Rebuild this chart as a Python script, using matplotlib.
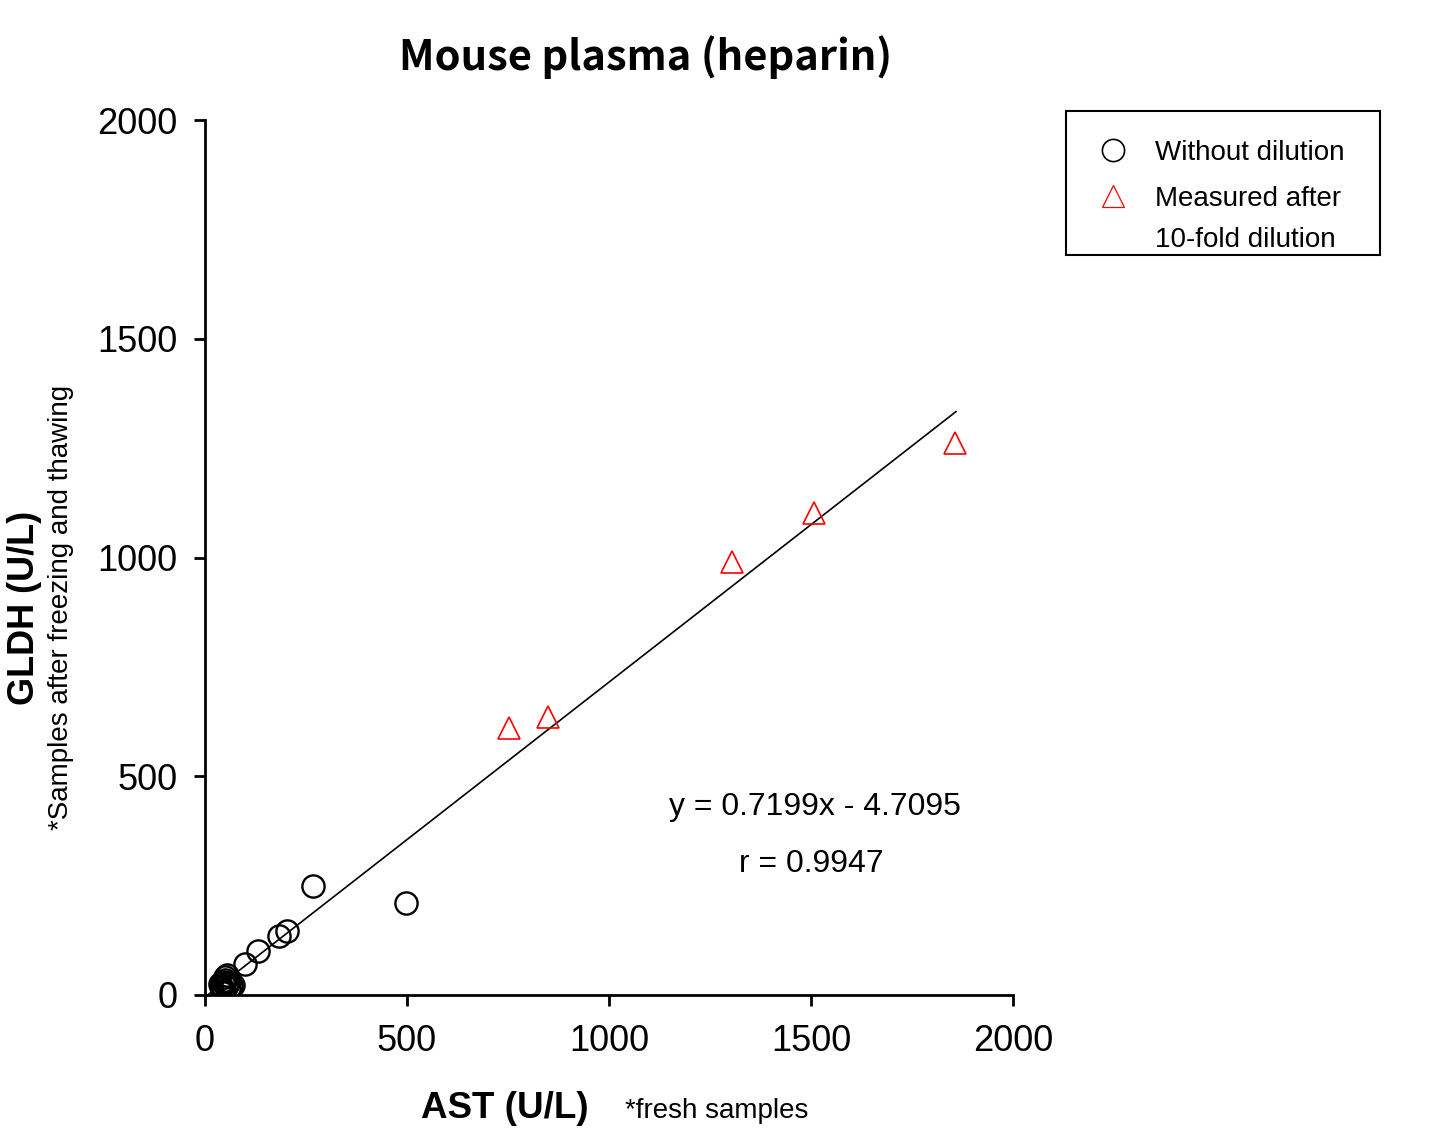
import matplotlib.pyplot as plt
from matplotlib.lines import Line2D
from matplotlib.patches import Rectangle

# Data
ast_plain = [40, 45, 50, 55, 60, 65, 70, 45, 50, 55, 38, 42, 48, 52, 58, 44,
             99, 131, 183, 203, 267, 497]
gldh_plain = [20, 30, 35, 25, 15, 20, 22, 10, 40, 45, 25, 15, 8, 18, 28, 5,
              71, 101, 135, 146, 249, 210]
ast_diluted = [752, 849, 1304, 1507, 1856]
gldh_diluted = [610, 635, 990, 1102, 1262]
slope, intercept = 0.7199, -4.7095
fit_x = [0, 1859]

plt.rcParams['font.family'] = ['Liberation Sans', 'DejaVu Sans']

fig = plt.figure(figsize=(14.5, 11.4), dpi=100)
ax = fig.add_axes([0.1414, 0.1272, 0.5572, 0.7675])

ax.plot(fit_x, [slope * v + intercept for v in fit_x], color='black', lw=1.2)
ax.plot(ast_plain, gldh_plain, 'o', ms=16, mfc='none', mec='black', mew=1.7)
ax.plot(ast_diluted, gldh_diluted, '^', ms=16, mfc='none', mec='red', mew=1.2)

ax.set_xlim(0, 2000)
ax.set_ylim(0, 2000)
ax.set_xticks([0, 500, 1000, 1500, 2000])
ax.set_yticks([0, 500, 1000, 1500, 2000])
ax.spines['top'].set_visible(False)
ax.spines['right'].set_visible(False)
ax.spines['left'].set_linewidth(2)
ax.spines['bottom'].set_linewidth(2)
ax.tick_params(direction='out', length=8, width=2, labelsize=26)
ax.tick_params(axis='y', pad=12)
ax.tick_params(axis='x', pad=13)

ax.text(1510, 430, 'y = 0.7199x - 4.7095', fontsize=23, ha='center', va='center')
ax.text(1502, 299, 'r = 0.9947', fontsize=23, ha='center', va='center')

fig.text(0.445, 0.950, 'Mouse plasma (heparin)', fontsize=30, fontweight='bold',
         ha='center', va='center', family=['Noto Sans CJK JP', 'DejaVu Sans'])

fig.text(0.348, 0.028, 'AST (U/L)', fontsize=26.5, fontweight='bold', ha='center', va='center')
fig.text(0.494, 0.025, '*fresh samples', fontsize=20, ha='center', va='center')

fig.text(0.017, 0.467, 'GLDH (U/L)', fontsize=26, fontweight='bold', rotation=90,
         ha='center', va='center')
fig.text(0.042, 0.467, '*Samples after freezing and thawing', fontsize=20, rotation=90,
         ha='center', va='center')

# legend box drawn by hand
fig.patches.append(Rectangle((1066 / 1450, 1 - 255 / 1140), 314 / 1450, 144 / 1140,
                             transform=fig.transFigure, fill=False, ec='black', lw=1.5))
fig.add_artist(Line2D([1113 / 1450], [1 - 150 / 1140], marker='o', ms=16, mfc='none',
                      mec='black', mew=1.2, transform=fig.transFigure))
fig.add_artist(Line2D([1113 / 1450], [1 - 196 / 1140], marker='^', ms=16, mfc='none',
                      mec='red', mew=0.9, transform=fig.transFigure))
fig.text(1155 / 1450, 1 - 153 / 1140, 'Without dilution', fontsize=20, va='center')
fig.text(1155 / 1450, 1 - 199 / 1140, 'Measured after', fontsize=20, va='center')
fig.text(1155 / 1450, 1 - 240 / 1140, '10-fold dilution', fontsize=20, va='center')

plt.savefig('out.png')
